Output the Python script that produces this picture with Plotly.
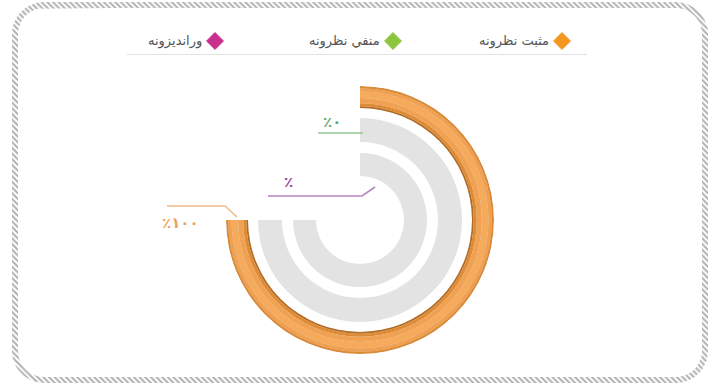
import numpy as np
import plotly.graph_objects as go

# series
names = ["مثبت نظرونه", "منفي نظرونه", "وراندیزونه"]
values = [100, 0, None]  # third value shows no number in the chart
colors = ["#f5961f", "#8cc63e", "#c92f8d"]
label_colors = ["#eaa45c", "#68a868", "#94479a"]
leader_colors = ["#eebd88", "#93c793", "#b687c0"]

FA_DIGITS = str.maketrans("0123456789", "۰۱۲۳۴۵۶۷۸۹")


def pct_label(v):
    return "٪" if v is None else "٪" + str(v).translate(FA_DIGITS)


W, H = 716, 385
CX, CY, R = 360, 220, 134
SPAN = 270  # degrees of a full (100%) ring
rings = [(112, 134), (78, 102), (44, 67)]
TRACK = "#e3e3e3"
# tube shading of the filled bar (fractions of ring thickness, inner -> outer)
shade = [(0.0, 0.08, "#b46a24"), (0.08, 0.22, "#de8b36"), (0.22, 0.45, "#f1a152"),
         (0.45, 0.75, "#f6ab5c"), (0.75, 0.9, "#efa050"), (0.9, 1.0, "#dc8a36")]

fig = go.Figure()

for (r0, r1), v, c in zip(rings, values, colors):
    fig.add_trace(go.Barpolar(r=[r1 - r0], base=[r0], theta=[SPAN / 2], width=[SPAN],
                              marker=dict(color=TRACK, line=dict(width=0)),
                              showlegend=False, hoverinfo="skip"))
    if v:
        ang = SPAN * v / 100
        for f0, f1, sc in shade:
            fig.add_trace(go.Barpolar(r=[(f1 - f0) * (r1 - r0)], base=[r0 + f0 * (r1 - r0)],
                                      theta=[ang / 2], width=[ang],
                                      marker=dict(color=sc, line=dict(width=0)),
                                      showlegend=False, hoverinfo="skip"))


def rounded_rect(x0, y0, x1, y1, r, n=14):
    pts = []
    corners = [(x1 - r, y0 + r, -90), (x1 - r, y1 - r, 0), (x0 + r, y1 - r, 90), (x0 + r, y0 + r, 180)]
    for cx, cy, a in corners:
        t = np.radians(np.linspace(a, a + 90, n))
        pts += list(zip(cx + r * np.cos(t), cy + r * np.sin(t)))
    return pts


outer = rounded_rect(12, 2, 708, 383, 32)
inner = rounded_rect(18, 8, 702, 377, 26)[::-1]
ring_pts = outer + [outer[0]] + inner + [inner[0]]
fig.add_trace(go.Scatter(x=[p[0] for p in ring_pts], y=[p[1] for p in ring_pts],
                         mode="lines", fill="toself", line=dict(width=0),
                         fillcolor="rgba(0,0,0,0)",
                         fillpattern=dict(shape="\\", size=4, solidity=0.5,
                                          fgcolor="#626262", bgcolor="white"),
                         showlegend=False, hoverinfo="skip"))

# legend (right-to-left: marker on the right of its text)
legend_x = [562, 393, 215]
fig.add_trace(go.Scatter(x=legend_x, y=[41] * 3, mode="markers",
                         marker=dict(symbol="diamond", size=13, color=colors,
                                     line=dict(width=1, color=colors)),
                         showlegend=False, hoverinfo="skip"))

shapes = [dict(type="line", xref="x", yref="y", x0=127, x1=587, y0=54.5, y1=54.5,
               line=dict(color="#e2e2e2", width=1))]
annotations = [dict(x=lx - 11, y=41, xref="x", yref="y", text=n, showarrow=False,
                    xanchor="right",
                    font=dict(family="DejaVu Sans", size=13, color="#555555"))
               for lx, n in zip(legend_x, names)]

# value labels with leader lines
label_pos = [(180, 223), (332, 122), (288, 182)]
leaders = [[(167, 206), (225, 206), (237, 217)],
           [(318, 133), (363, 133)],
           [(268, 196), (362, 196), (375, 187)]]
for v, (tx, ty), pts, tc, lc in zip(values, label_pos, leaders, label_colors, leader_colors):
    path = "M " + " L ".join(f"{x},{y}" for x, y in pts)
    shapes.append(dict(type="path", xref="x", yref="y", path=path,
                       line=dict(color=lc, width=1.6)))
    annotations.append(dict(x=tx, y=ty, xref="x", yref="y", text="<b>" + pct_label(v) + "</b>",
                            showarrow=False,
                            font=dict(family="DejaVu Sans", size=15, color=tc)))

fig.update_layout(
    width=W, height=H,
    margin=dict(l=0, r=0, t=0, b=0),
    paper_bgcolor="white", plot_bgcolor="rgba(0,0,0,0)",
    xaxis=dict(range=[0, W], domain=[0, 1], visible=False, fixedrange=True),
    yaxis=dict(range=[H, 0], domain=[0, 1], visible=False, fixedrange=True),
    polar=dict(
        domain=dict(x=[(CX - R) / W, (CX + R) / W], y=[(H - CY - R) / H, (H - CY + R) / H]),
        bgcolor="rgba(0,0,0,0)",
        radialaxis=dict(range=[0, R], visible=False),
        angularaxis=dict(rotation=90, direction="clockwise", visible=False),
    ),
    shapes=shapes,
    annotations=annotations,
    showlegend=False,
)

# page body has a default margin; drop it so the figure fills the window
fig.write_html("out.html", config={"displayModeBar": False},
               post_script="document.body.style.margin='0';")
